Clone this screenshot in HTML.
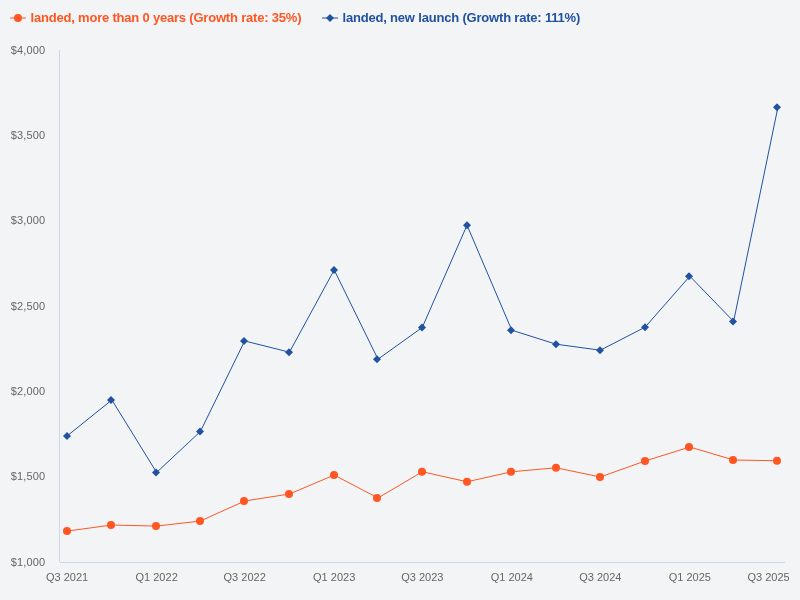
<!DOCTYPE html>
<html lang="en"><head><meta charset="utf-8"><title>Chart</title>
<style>
html,body{margin:0;padding:0;background:#f3f4f6;}
body{width:800px;height:600px;overflow:hidden;}
svg{display:block;will-change:transform;font-family:"Liberation Sans",sans-serif;}
.ax{font-size:11px;fill:#666666;}
.lg{font-size:13px;font-weight:bold;}
</style></head><body>
<svg width="800" height="600" viewBox="0 0 800 600">
<rect x="0" y="0" width="800" height="600" fill="#f3f4f6"/>
<path d="M59.5 50 L59.5 562" stroke="#ccd6eb" stroke-width="1" fill="none"/>
<path d="M60 562.5 L785 562.5" stroke="#ccd6eb" stroke-width="1" fill="none"/>

<text class="ax" x="45" y="54" text-anchor="end" textLength="34.3" lengthAdjust="spacing">$4,000</text>
<text class="ax" x="45" y="139" text-anchor="end" textLength="34.3" lengthAdjust="spacing">$3,500</text>
<text class="ax" x="45" y="224" text-anchor="end" textLength="34.3" lengthAdjust="spacing">$3,000</text>
<text class="ax" x="45" y="310" text-anchor="end" textLength="34.3" lengthAdjust="spacing">$2,500</text>
<text class="ax" x="45" y="395" text-anchor="end" textLength="34.3" lengthAdjust="spacing">$2,000</text>
<text class="ax" x="45" y="480" text-anchor="end" textLength="34.3" lengthAdjust="spacing">$1,500</text>
<text class="ax" x="45" y="566" text-anchor="end" textLength="34.3" lengthAdjust="spacing">$1,000</text>
<text class="ax" x="67.1" y="581" text-anchor="middle" textLength="42.3" lengthAdjust="spacing">Q3 2021</text>
<text class="ax" x="156.6" y="581" text-anchor="middle" textLength="42.3" lengthAdjust="spacing">Q1 2022</text>
<text class="ax" x="244.7" y="581" text-anchor="middle" textLength="42.3" lengthAdjust="spacing">Q3 2022</text>
<text class="ax" x="334.2" y="581" text-anchor="middle" textLength="42.3" lengthAdjust="spacing">Q1 2023</text>
<text class="ax" x="422.3" y="581" text-anchor="middle" textLength="42.3" lengthAdjust="spacing">Q3 2023</text>
<text class="ax" x="511.8" y="581" text-anchor="middle" textLength="42.3" lengthAdjust="spacing">Q1 2024</text>
<text class="ax" x="600.3" y="581" text-anchor="middle" textLength="42.3" lengthAdjust="spacing">Q3 2024</text>
<text class="ax" x="689.8" y="581" text-anchor="middle" textLength="42.3" lengthAdjust="spacing">Q1 2025</text>
<text class="ax" x="789.7" y="581" text-anchor="end" textLength="42.3" lengthAdjust="spacing">Q3 2025</text>
<path d="M67.11 531.10 L111.87 525.00 L156.62 526.10 L200.41 521.00 L244.68 501.00 L289.44 494.00 L334.20 475.05 L377.98 498.00 L422.26 471.75 L467.02 481.75 L511.77 471.75 L556.05 467.75 L600.32 477.00 L645.08 461.00 L689.83 447.00 L733.62 460.00 L777.89 460.75" stroke="#ff5622" stroke-width="1" fill="none" stroke-linejoin="round" stroke-linecap="round"/>
<circle cx="67.00" cy="531.10" r="4" fill="#ff5622"/>
<circle cx="111.00" cy="525.00" r="4" fill="#ff5622"/>
<circle cx="156.00" cy="526.10" r="4" fill="#ff5622"/>
<circle cx="200.00" cy="521.00" r="4" fill="#ff5622"/>
<circle cx="244.00" cy="501.00" r="4" fill="#ff5622"/>
<circle cx="289.00" cy="494.00" r="4" fill="#ff5622"/>
<circle cx="334.00" cy="475.05" r="4" fill="#ff5622"/>
<circle cx="377.00" cy="498.00" r="4" fill="#ff5622"/>
<circle cx="422.00" cy="471.75" r="4" fill="#ff5622"/>
<circle cx="467.00" cy="481.75" r="4" fill="#ff5622"/>
<circle cx="511.00" cy="471.75" r="4" fill="#ff5622"/>
<circle cx="556.00" cy="467.75" r="4" fill="#ff5622"/>
<circle cx="600.00" cy="477.00" r="4" fill="#ff5622"/>
<circle cx="645.00" cy="461.00" r="4" fill="#ff5622"/>
<circle cx="689.00" cy="447.00" r="4" fill="#ff5622"/>
<circle cx="733.00" cy="460.00" r="4" fill="#ff5622"/>
<circle cx="777.00" cy="460.75" r="4" fill="#ff5622"/>
<path d="M67.11 435.95 L111.87 399.95 L156.62 472.45 L200.41 431.45 L244.68 340.95 L289.44 352.20 L334.20 269.95 L377.98 359.20 L422.26 327.45 L467.02 225.20 L511.77 330.20 L556.05 344.20 L600.32 350.20 L645.08 327.20 L689.83 276.20 L733.62 321.45 L777.89 107.35" stroke="#2152a2" stroke-width="1" fill="none" stroke-linejoin="round" stroke-linecap="round"/>
<path d="M67.00 431.95 L71.00 435.95 L67.00 439.95 L63.00 435.95 Z" fill="#2152a2"/>
<path d="M111.00 395.95 L115.00 399.95 L111.00 403.95 L107.00 399.95 Z" fill="#2152a2"/>
<path d="M156.00 468.45 L160.00 472.45 L156.00 476.45 L152.00 472.45 Z" fill="#2152a2"/>
<path d="M200.00 427.45 L204.00 431.45 L200.00 435.45 L196.00 431.45 Z" fill="#2152a2"/>
<path d="M244.00 336.95 L248.00 340.95 L244.00 344.95 L240.00 340.95 Z" fill="#2152a2"/>
<path d="M289.00 348.20 L293.00 352.20 L289.00 356.20 L285.00 352.20 Z" fill="#2152a2"/>
<path d="M334.00 265.95 L338.00 269.95 L334.00 273.95 L330.00 269.95 Z" fill="#2152a2"/>
<path d="M377.00 355.20 L381.00 359.20 L377.00 363.20 L373.00 359.20 Z" fill="#2152a2"/>
<path d="M422.00 323.45 L426.00 327.45 L422.00 331.45 L418.00 327.45 Z" fill="#2152a2"/>
<path d="M467.00 221.20 L471.00 225.20 L467.00 229.20 L463.00 225.20 Z" fill="#2152a2"/>
<path d="M511.00 326.20 L515.00 330.20 L511.00 334.20 L507.00 330.20 Z" fill="#2152a2"/>
<path d="M556.00 340.20 L560.00 344.20 L556.00 348.20 L552.00 344.20 Z" fill="#2152a2"/>
<path d="M600.00 346.20 L604.00 350.20 L600.00 354.20 L596.00 350.20 Z" fill="#2152a2"/>
<path d="M645.00 323.20 L649.00 327.20 L645.00 331.20 L641.00 327.20 Z" fill="#2152a2"/>
<path d="M689.00 272.20 L693.00 276.20 L689.00 280.20 L685.00 276.20 Z" fill="#2152a2"/>
<path d="M733.00 317.45 L737.00 321.45 L733.00 325.45 L729.00 321.45 Z" fill="#2152a2"/>
<path d="M777.00 103.35 L781.00 107.35 L777.00 111.35 L773.00 107.35 Z" fill="#2152a2"/>
<path d="M10 18 L26 18" stroke="#ff5622" stroke-width="1" fill="none"/>
<circle cx="18.00" cy="18.00" r="4" fill="#ff5622"/>
<text class="lg" x="30.5" y="22" fill="#ff5622" textLength="271" lengthAdjust="spacing">landed, more than 0 years (Growth rate: 35%)</text>
<path d="M322 18 L338 18" stroke="#2152a2" stroke-width="1" fill="none"/>
<path d="M330.00 14.00 L334.00 18.00 L330.00 22.00 L326.00 18.00 Z" fill="#2152a2"/>
<text class="lg" x="342.5" y="22" fill="#2152a2" textLength="237.8" lengthAdjust="spacing">landed, new launch (Growth rate: 111%)</text>
</svg>
</body></html>
